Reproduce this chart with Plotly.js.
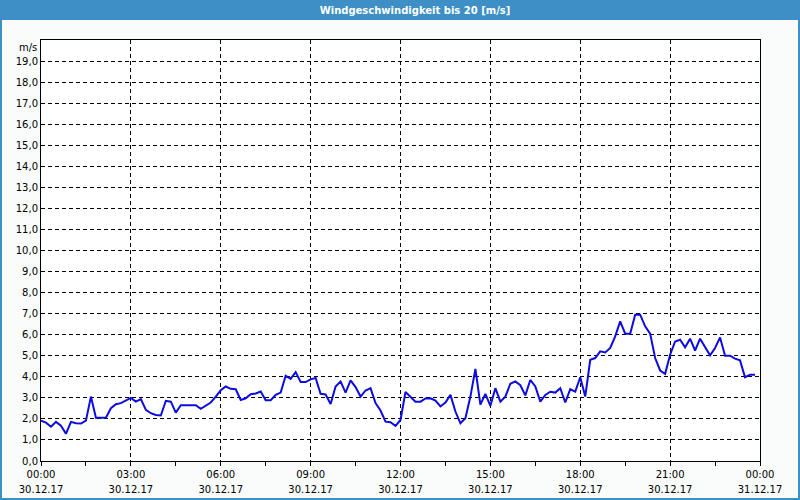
<!DOCTYPE html>
<html>
<head>
<meta charset="utf-8">
<script src="https://cdn.plot.ly/plotly-3.0.1.min.js"></script>
<style>
html,body{margin:0;padding:0;background:#f9fcfa;}
#chart{width:800px;height:500px;}
</style>
</head>
<body>
<div id="chart"></div>
<script>
// ---- data (10-minute readings, 30.12.17 00:00 .. 23:50) ----
var startTime = '2017-12-30 00:00';
var stepMinutes = 10;
var windSpeed = [
  1.92, 1.82, 1.63, 1.86, 1.68, 1.29, 1.86, 1.79, 1.78, 1.92,
  3.06, 2.06, 2.06, 2.06, 2.51, 2.70, 2.75, 2.87, 3.00, 2.82,
  2.94, 2.43, 2.27, 2.19, 2.16, 2.86, 2.82, 2.30, 2.65, 2.65,
  2.65, 2.65, 2.48, 2.62, 2.78, 3.06, 3.36, 3.54, 3.43, 3.41,
  2.90, 2.98, 3.17, 3.21, 3.30, 2.89, 2.89, 3.14, 3.25, 4.05,
  3.90, 4.22, 3.75, 3.75, 3.88, 3.94, 3.19, 3.16, 2.71, 3.54,
  3.78, 3.25, 3.83, 3.51, 3.06, 3.35, 3.46, 2.75, 2.40, 1.87,
  1.84, 1.67, 1.95, 3.28, 3.03, 2.82, 2.82, 2.97, 2.98, 2.87,
  2.59, 2.78, 3.14, 2.35, 1.79, 2.03, 3.06, 4.37, 2.68, 3.19,
  2.62, 3.46, 2.82, 3.06, 3.67, 3.78, 3.60, 3.12, 3.85, 3.54,
  2.82, 3.14, 3.29, 3.25, 3.46, 2.78, 3.41, 3.30, 3.98, 3.06,
  4.81, 4.89, 5.21, 5.16, 5.37, 5.92, 6.63, 6.05, 6.05, 6.95,
  6.95, 6.40, 6.05, 4.89, 4.30, 4.14, 5.05, 5.68, 5.76, 5.40,
  5.81, 5.25, 5.81, 5.44, 5.02, 5.37, 5.87, 5.00, 5.00, 4.86,
  4.78, 3.98, 4.10, 4.10
];
var xTickVals = ['2017-12-30 00:00','2017-12-30 03:00','2017-12-30 06:00','2017-12-30 09:00',
                 '2017-12-30 12:00','2017-12-30 15:00','2017-12-30 18:00','2017-12-30 21:00','2017-12-31 00:00'];
var xTimeLabels = ['00:00','03:00','06:00','09:00','12:00','15:00','18:00','21:00','00:00'];
var xDateLabels = ['30.12.17','30.12.17','30.12.17','30.12.17','30.12.17','30.12.17','30.12.17','30.12.17','31.12.17'];
var yTickVals = [0,1,2,3,4,5,6,7,8,9,10,11,12,13,14,15,16,17,18,19];
var yRange = [0, 20];
var titleText = 'Windgeschwindigkeit bis 20 [m/s]';
var unitLabel = 'm/s';

// ---- build time axis values ----
function pad(n){return (n<10?'0':'')+n;}
var times = [];
for (var i = 0; i < windSpeed.length; i++) {
  var m = i * stepMinutes;
  times.push('2017-12-30 ' + pad(Math.floor(m/60)) + ':' + pad(m%60));
}

// ---- layout geometry ----
var W = 800, H = 500, L = 41, R = 40, T = 40, B = 39;
var pw = W - L - R, ph = H - T - B;
var blue = '#3d8fc6';
var font = 'DejaVu Sans, Verdana, sans-serif';
var gridDash = '4px,3px';

var traces = [
  {x: times, y: windSpeed, type: 'scatter', mode: 'lines',
   line: {color: '#0c0ce0', width: 2}, hoverinfo: 'skip', xaxis: 'x', yaxis: 'y'},
  {x: [xTickVals[0], xTickVals[xTickVals.length-1]], y: [null, null], type: 'scatter', mode: 'lines',
   xaxis: 'x2', yaxis: 'y', showlegend: false, hoverinfo: 'skip'}
];

var layout = {
  width: W, height: H,
  margin: {l: L, r: R, t: T, b: B, pad: 0},
  paper_bgcolor: '#f9fcfa',
  plot_bgcolor: '#ffffff',
  showlegend: false,
  separators: ', ',
  font: {family: font, size: 10, color: '#000'},
  title: {
    text: titleText,
    font: {family: font, size: 10, color: '#ffffff', weight: 'bold'},
    xref: 'container', yref: 'container',
    x: 415 / W, xanchor: 'center',
    y: 1 - 10 / H, yanchor: 'middle'
  },
  xaxis: {
    type: 'date',
    range: [xTickVals[0], xTickVals[xTickVals.length-1]],
    tickmode: 'array', tickvals: xTickVals, ticktext: xTimeLabels,
    ticks: 'outside', ticklen: 4, tickwidth: 1, tickcolor: '#000',
    showline: true, linecolor: '#000', linewidth: 1, mirror: true,
    showgrid: true, gridcolor: '#000', gridwidth: 1, griddash: gridDash,
    zeroline: false,
    minor: {ticks: 'outside', ticklen: 4, tickcolor: '#000', tickwidth: 1,
            dtick: 5400000, tick0: xTickVals[0], showgrid: false},
    tickfont: {family: font, size: 10, color: '#000'},
    fixedrange: true
  },
  xaxis2: {
    type: 'date', overlaying: 'x', anchor: 'y', side: 'bottom',
    range: [xTickVals[0], xTickVals[xTickVals.length-1]],
    tickmode: 'array', tickvals: xTickVals, ticktext: xDateLabels,
    ticks: '', showline: false, showgrid: false, zeroline: false,
    ticklabelstandoff: 21,
    tickfont: {family: font, size: 10, color: '#000'},
    fixedrange: true
  },
  yaxis: {
    range: yRange,
    tickmode: 'array', tickvals: yTickVals, tickformat: '.1f',
    ticks: '', showline: true, linecolor: '#000', linewidth: 1, mirror: true,
    showgrid: true, gridcolor: '#000', gridwidth: 1, griddash: gridDash,
    zeroline: false,
    tickfont: {family: font, size: 10, color: '#000'},
    fixedrange: true
  },
  annotations: [
    {text: unitLabel, xref: 'paper', yref: 'y', x: 0, y: yRange[1],
     xanchor: 'right', yanchor: 'top', xshift: -2, yshift: 0, showarrow: false,
     font: {family: font, size: 10, color: '#000'}}
  ],
  shapes: [
    {type: 'rect', xref: 'paper', yref: 'paper', layer: 'below',
     x0: -L/pw - 0.01, x1: (W-L)/pw + 0.01, y0: 1 + (T-20)/ph, y1: 1 + T/ph + 0.01,
     fillcolor: blue, line: {width: 0}},
    {type: 'rect', xref: 'paper', yref: 'paper', layer: 'below',
     x0: -L/pw - 0.01, x1: (2-L)/pw, y0: -B/ph - 0.01, y1: 1 + T/ph,
     fillcolor: blue, line: {width: 0}},
    {type: 'rect', xref: 'paper', yref: 'paper', layer: 'below',
     x0: (W-2-L)/pw, x1: (W-L)/pw + 0.01, y0: -B/ph - 0.01, y1: 1 + T/ph,
     fillcolor: blue, line: {width: 0}},
    {type: 'rect', xref: 'paper', yref: 'paper', layer: 'below',
     x0: -L/pw - 0.01, x1: (W-L)/pw + 0.01, y0: -B/ph - 0.01, y1: (2-B)/ph,
     fillcolor: blue, line: {width: 0}}
  ]
};

Plotly.newPlot('chart', traces, layout, {displayModeBar: false, staticPlot: true});
</script>
</body>
</html>
